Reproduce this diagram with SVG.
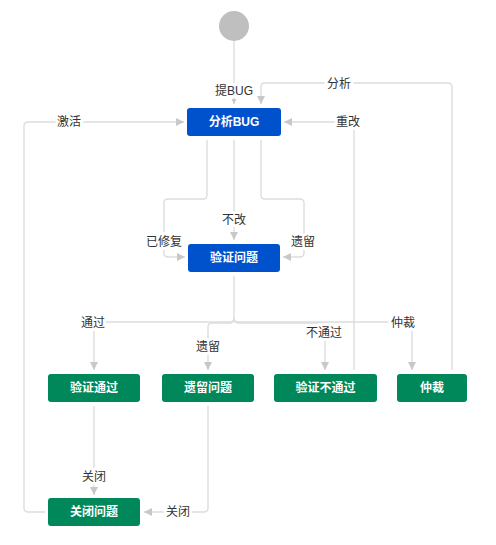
<svg xmlns="http://www.w3.org/2000/svg" width="496" height="545" viewBox="0 0 496 545">
<defs>
<marker id="arr" markerUnits="userSpaceOnUse" markerWidth="9" markerHeight="9" refX="8" refY="4" orient="auto" overflow="visible">
<path d="M0,0 L8,4 L0,8 z" fill="#c8c8c8"/>
</marker>
<marker id="arrs" markerUnits="userSpaceOnUse" markerWidth="6" markerHeight="6" refX="5" refY="2.5" orient="auto" overflow="visible">
<path d="M0,0 L5,2.5 L0,5 z" fill="#c8c8c8"/>
</marker>
</defs>
<style>
.c{fill:none;stroke:#dddddd;stroke-width:1.4;marker-end:url(#arr)}
.lb{font-family:"Liberation Sans","Noto Sans CJK SC",sans-serif;font-size:12px;fill:#333;text-anchor:middle;dominant-baseline:central;paint-order:stroke;stroke:#fff;stroke-width:6px;stroke-linejoin:round}
.n text{font-family:"Liberation Sans","Noto Sans CJK SC",sans-serif;font-size:12px;font-weight:bold;fill:#fff;text-anchor:middle;dominant-baseline:central}
.blue{fill:#0052cc}
.green{fill:#00875a}
</style>
<rect width="496" height="545" fill="#fff"/>
<g id="connectors">
<path class="c" style="marker-end:url(#arrs)" d="M234,41 V104"/>
<path class="c" d="M452,370 V87 Q452,83 448,83 H265 Q261,83 261,87 V104"/>
<path class="c" d="M354,370 V126 Q354,122 350,122 H284"/>
<path class="c" d="M45,512 H28 Q24,512 24,508 V126 Q24,122 28,122 H184"/>
<path class="c" d="M207,140 V195 Q207,199 203,199 H168 Q164,199 164,203 V253 Q164,257 168,257 H185"/>
<path class="c" d="M234,140 V240"/>
<path class="c" d="M261,140 V195 Q261,199 265,199 H300 Q304,199 304,203 V253 Q304,257 300,257 H283"/>
<path class="c" d="M234,276 V318 Q234,322 230,322 H98 Q94,322 94,326 V370"/>
<path class="c" d="M234,318 Q234,322 238,322 H408 Q412,322 412,326 V370"/>
<path class="c" d="M234,318 Q234,323 230,323 H212 Q208,323 208,327 V370"/>
<path class="c" d="M234,318 Q234,323 238,323 H321 Q325,323 325,327 V370"/>
<path class="c" d="M94,406 V495"/>
<path class="c" d="M208,406 V508 Q208,512 204,512 H144"/>
<text class="lb" x="234" y="91">提BUG</text>
<text class="lb" x="339" y="84">分析</text>
<text class="lb" x="348" y="122">重改</text>
<text class="lb" x="69" y="122">激活</text>
<text class="lb" x="164" y="242">已修复</text>
<text class="lb" x="234" y="220">不改</text>
<text class="lb" x="303" y="242">遗留</text>
<text class="lb" x="93" y="323">通过</text>
<text class="lb" x="403" y="323">仲裁</text>
<text class="lb" x="208" y="347">遗留</text>
<text class="lb" x="324" y="333">不通过</text>
<text class="lb" x="94" y="477">关闭</text>
<text class="lb" x="178" y="512">关闭</text>
</g>
<g id="start" class="n"><circle cx="234" cy="26" r="15" fill="#bfbfbf"/></g>
<g id="analyze" class="n"><rect class="blue" x="187" y="108" width="94" height="28" rx="3"/><text x="234" y="122">分析BUG</text></g>
<g id="verify" class="n"><rect class="blue" x="188" y="244" width="92" height="28" rx="3"/><text x="234" y="258">验证问题</text></g>
<g id="passed" class="n"><rect class="green" x="48" y="374" width="92" height="28" rx="3"/><text x="94" y="388">验证通过</text></g>
<g id="deferred" class="n"><rect class="green" x="162" y="374" width="92" height="28" rx="3"/><text x="208" y="388">遗留问题</text></g>
<g id="failed" class="n"><rect class="green" x="274" y="374" width="103" height="28" rx="3"/><text x="325.5" y="388">验证不通过</text></g>
<g id="arbitrate" class="n"><rect class="green" x="397" y="374" width="70" height="28" rx="3"/><text x="432" y="388">仲裁</text></g>
<g id="closed" class="n"><rect class="green" x="48" y="498" width="92" height="28" rx="3"/><text x="94" y="512">关闭问题</text></g>
</svg>
